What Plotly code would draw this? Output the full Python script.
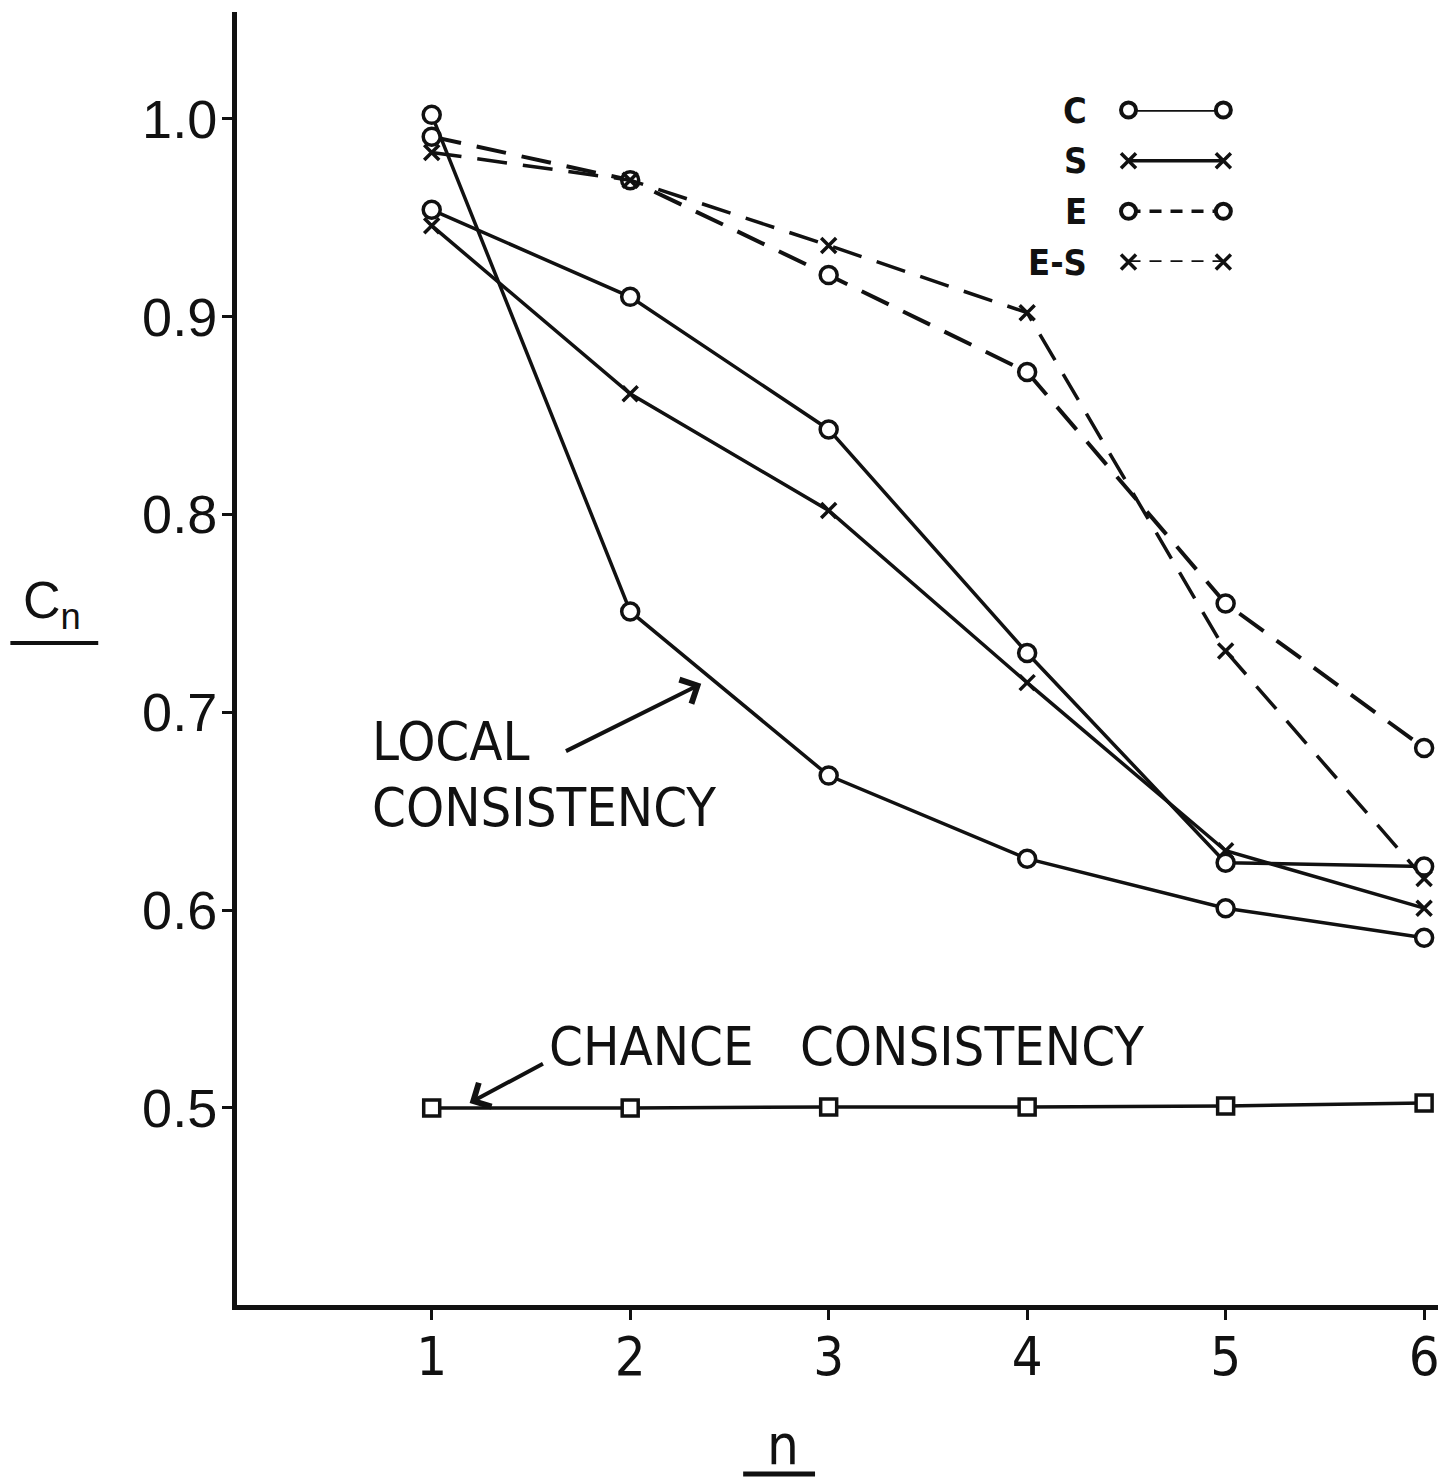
import plotly.graph_objects as go

# ---------------- data ----------------
n_values = [1, 2, 3, 4, 5, 6]
local_consistency = [1.002, 0.751, 0.668, 0.626, 0.601, 0.586]
series_C = [0.954, 0.910, 0.843, 0.730, 0.624, 0.622]
series_S = [0.946, 0.861, 0.802, 0.715, 0.630, 0.601]
series_E = [0.991, 0.969, 0.921, 0.872, 0.755, 0.682]
series_ES = [0.983, 0.969, 0.936, 0.902, 0.731, 0.616]
chance_consistency = [0.500, 0.500, 0.5005, 0.5005, 0.501, 0.5025]

y_tick_vals = [0.5, 0.6, 0.7, 0.8, 0.9, 1.0]
y_tick_text = ["0.5", "0.6", "0.7", "0.8", "0.9", "1.0"]
x_tick_vals = [1, 2, 3, 4, 5, 6]
x_tick_text = ["1", "2", "3", "4", "5", "6"]

legend_labels = ["C", "S", "E", "E-S"]
legend_rows = [0, 1, 2, 3]

# ---------------- layout geometry ----------------
W, H = 1446, 1481
L, R, T, B = 237, 6, 12, 176
PW = W - L - R
PH = H - T - B

def px(x):
    return (x - L) / PW

def py(y):
    return (H - B - y) / PH

BLACK = "#111111"
FONT = "DejaVu Sans Condensed, Roboto, Liberation Sans, sans-serif"
FONT_W = "Liberation Sans, Arial, sans-serif"

circle_marker = dict(symbol="circle", size=17, color="white",
                     line=dict(color=BLACK, width=3.5))
x_marker = dict(symbol="x-thin", size=15, color=BLACK,
                line=dict(color=BLACK, width=3.5))
square_marker = dict(symbol="square", size=16, color="white",
                     line=dict(color=BLACK, width=3.5))
legend_circle = dict(symbol="circle", size=15, color="white",
                     line=dict(color=BLACK, width=4))

DASH = "30px,16px"

fig = go.Figure()

def add_series(y, marker, dash, width):
    fig.add_trace(go.Scatter(
        x=n_values, y=y, mode="lines+markers",
        line=dict(color=BLACK, width=width, dash=dash),
        marker=marker, showlegend=False, cliponaxis=False))

add_series(series_E, circle_marker, DASH, 4)
add_series(series_ES, x_marker, DASH, 3.5)
add_series(series_S, x_marker, "solid", 3.5)
add_series(series_C, circle_marker, "solid", 3.5)
add_series(local_consistency, circle_marker, "solid", 3.5)
add_series(chance_consistency, square_marker, "solid", 3.5)

# ---------------- custom legend (text on the left) ----------------
legend_styles = [
    (legend_circle, "solid"),
    (x_marker, "solid"),
    (legend_circle, "12px,9px"),
    (x_marker, "12px,9px"),
]
for row, (mk, dash) in zip(legend_rows, legend_styles):
    fig.add_trace(go.Scatter(
        x=[0, 1], y=[row, row], mode="lines+markers",
        line=dict(color=BLACK, width=3.5, dash=dash),
        marker=mk, showlegend=False, cliponaxis=False,
        xaxis="x2", yaxis="y2"))

LEG_TOP, LEG_STEP = 110, 50.7
annotations = []
for row, lab in zip(legend_rows, legend_labels):
    annotations.append(dict(
        x=px(1090), y=py(LEG_TOP + LEG_STEP * row), xref="paper", yref="paper",
        text=lab, showarrow=False, xanchor="right", yanchor="middle",
        font=dict(family=FONT, size=36, color=BLACK, weight="bold")))

# ---------------- text annotations ----------------
annotations += [
    dict(x=0.688, y=0.685, xref="x", yref="y", text="LOCAL",
         showarrow=False, xanchor="left", yanchor="middle",
         font=dict(family=FONT, size=54, color=BLACK)),
    dict(x=0.688, y=0.652, xref="x", yref="y", text="CONSISTENCY",
         showarrow=False, xanchor="left", yanchor="middle",
         font=dict(family=FONT, size=54, color=BLACK)),
    dict(x=1.58, y=0.531, xref="x", yref="y", text="CHANCE   CONSISTENCY",
         showarrow=False, xanchor="left", yanchor="middle",
         font=dict(family=FONT, size=54, color=BLACK)),
    # arrows
    dict(x=2.358, y=0.7144, ax=1.669, ay=0.680, xref="x", yref="y",
         axref="x", ayref="y", text="", showarrow=True, arrowhead=4,
         arrowsize=1.3, arrowwidth=4, arrowcolor=BLACK),
    dict(x=1.191, y=0.5025, ax=1.568, ay=0.5228, xref="x", yref="y",
         axref="x", ayref="y", text="", showarrow=True, arrowhead=4,
         arrowsize=1.3, arrowwidth=4, arrowcolor=BLACK),
    # axis titles
    dict(x=px(52), y=py(604), xref="paper", yref="paper",
         text="C<sub>n</sub>", showarrow=False, xanchor="center",
         yanchor="middle", font=dict(family=FONT_W, size=52, color=BLACK)),
    dict(x=px(784), y=py(1444), xref="paper", yref="paper",
         text="n", showarrow=False, xanchor="center", yanchor="middle",
         font=dict(family=FONT, size=56, color=BLACK)),
]

shapes = [
    dict(type="line", xref="paper", yref="paper", x0=px(10), x1=px(98),
         y0=py(643), y1=py(643), line=dict(color=BLACK, width=4)),
    dict(type="line", xref="paper", yref="paper", x0=px(744), x1=px(816),
         y0=py(1474), y1=py(1474), line=dict(color=BLACK, width=5)),
]

fig.update_layout(
    width=W, height=H,
    margin=dict(l=L, r=R, t=T, b=B),
    paper_bgcolor="white", plot_bgcolor="white",
    showlegend=False,
    annotations=annotations, shapes=shapes,
    xaxis=dict(range=[0.019, 6.07], showgrid=False, zeroline=False,
               showline=True, linewidth=5, linecolor=BLACK,
               ticks="outside", ticklen=10, tickwidth=3, tickcolor=BLACK,
               tickvals=x_tick_vals, ticktext=x_tick_text,
               ticklabelstandoff=-10,
               tickfont=dict(family=FONT, size=54, color=BLACK)),
    yaxis=dict(range=[0.4004, 1.054], showgrid=False, zeroline=False,
               showline=True, linewidth=5, linecolor=BLACK,
               ticks="outside", ticklen=10, tickwidth=3, tickcolor=BLACK,
               tickvals=y_tick_vals, ticktext=y_tick_text,
               ticklabelstandoff=-6,
               tickfont=dict(family=FONT_W, size=54, color=BLACK)),
    xaxis2=dict(domain=[px(1130), px(1225)], range=[0, 1], visible=False,
                anchor="y2"),
    yaxis2=dict(domain=[py(262), py(110)], range=[3, 0], visible=False,
                anchor="x2"),
)

fig.write_html("out.html",
               config={"displayModeBar": False},
               post_script="document.body.style.margin='0';"
                           "document.body.style.padding='0';")
